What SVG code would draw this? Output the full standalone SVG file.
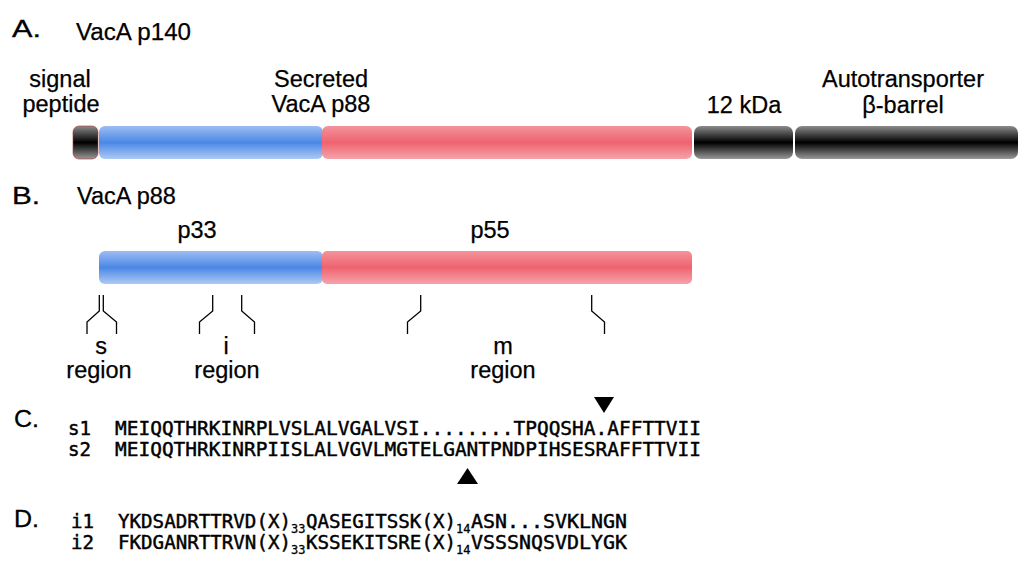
<svg xmlns="http://www.w3.org/2000/svg" width="1024" height="567" viewBox="0 0 1024 567">
<defs>
<linearGradient id="gBlue" x1="0" y1="0" x2="0" y2="1">
<stop offset="0" stop-color="#9dbdf3"/><stop offset="0.5" stop-color="#4a88e6"/><stop offset="1" stop-color="#adc9f5"/>
</linearGradient>
<linearGradient id="gRed" x1="0" y1="0" x2="0" y2="1">
<stop offset="0" stop-color="#f4939c"/><stop offset="0.5" stop-color="#ee636f"/><stop offset="1" stop-color="#f6a3aa"/>
</linearGradient>
<linearGradient id="gBlack" x1="0" y1="0" x2="0" y2="1">
<stop offset="0" stop-color="#8c8c8c"/><stop offset="0.5" stop-color="#000"/><stop offset="1" stop-color="#9a9a9a"/>
</linearGradient>
<style>
.lbl{font-family:"Liberation Sans",Arial,sans-serif;font-size:23.5px;fill:#000;stroke:#000;stroke-width:0.25}
.hd{font-family:"Liberation Sans",Arial,sans-serif;font-size:24px;fill:#000;stroke:#000;stroke-width:0.3}
.seq{font-family:"DejaVu Sans Mono","Liberation Mono",monospace;font-size:19px;fill:#000;stroke:#000;stroke-width:0.45}
.sub{font-family:"DejaVu Sans Mono","Liberation Mono",monospace;font-size:12px;fill:#000;stroke:#000;stroke-width:0.3}
.mid{text-anchor:middle}
.tick{fill:none;stroke:#000;stroke-width:1.3}
</style>
</defs>
<rect width="1024" height="567" fill="#fff"/>

<g id="panelA">
<text class="hd" x="12" y="37" textLength="29" lengthAdjust="spacingAndGlyphs">A.</text>
<text class="lbl" x="76" y="40" textLength="115" lengthAdjust="spacingAndGlyphs">VacA p140</text>
<g id="signal-peptide">
<text class="lbl mid" x="60" y="87">signal</text>
<text class="lbl mid" x="61" y="112">peptide</text>
<rect x="73" y="126" width="25" height="33" rx="6" fill="url(#gBlack)" stroke="#b03030" stroke-width="0.6"/>
</g>
<g id="p88-blue">
<rect x="99" y="126" width="224" height="33" rx="6" fill="url(#gBlue)"/>
</g>
<g id="p88-red">
<text class="lbl mid" x="321" y="87">Secreted</text>
<text class="lbl mid" x="321" y="112">VacA p88</text>
<rect x="322" y="126" width="370" height="33" rx="6" fill="url(#gRed)"/>
</g>
<g id="kda12">
<text class="lbl mid" x="744" y="113">12 kDa</text>
<rect x="694" y="126" width="99" height="33" rx="7" fill="url(#gBlack)"/>
</g>
<g id="autotransporter">
<text class="lbl mid" x="903" y="87">Autotransporter</text>
<text class="lbl mid" x="903" y="113">β-barrel</text>
<rect x="795" y="126" width="223" height="33" rx="7" fill="url(#gBlack)"/>
</g>
</g>

<g id="panelB">
<text class="hd" x="12" y="204" textLength="28" lengthAdjust="spacingAndGlyphs">B.</text>
<text class="lbl" x="77" y="204">VacA p88</text>
<g id="p33">
<text class="lbl mid" x="197" y="238">p33</text>
<rect x="99" y="251" width="224" height="33" rx="6" fill="url(#gBlue)"/>
</g>
<g id="p55">
<text class="lbl mid" x="490" y="238">p55</text>
<rect x="322" y="251" width="370" height="33" rx="5" fill="url(#gRed)"/>
</g>
<g id="s-region">
<text class="lbl mid" x="101" y="354">s</text>
<text class="lbl mid" x="99" y="378">region</text>
</g>
<g id="i-region">
<text class="lbl mid" x="226" y="354">i</text>
<text class="lbl mid" x="227" y="378">region</text>
</g>
<g id="m-region">
<text class="lbl mid" x="503" y="354">m</text>
<text class="lbl mid" x="503" y="378">region</text>
</g>
</g>

<g id="connectors">
<path class="tick" d="M99.3,295 V311 L87,322 V334"/>
<path class="tick" d="M103.3,295 V311 L116.5,322 V334"/>
<path class="tick" d="M212.7,295 V311 L199.5,322 V334"/>
<path class="tick" d="M241.7,295 V311 L254.5,322 V334"/>
<path class="tick" d="M420.7,295 V311 L407.5,322 V334"/>
<path class="tick" d="M591.7,295 V311 L604.5,322 V334"/>
</g>

<g id="panelC">
<text class="hd" x="14" y="427" textLength="25" lengthAdjust="spacingAndGlyphs">C.</text>
<polygon points="594,397 614,397 604,413" fill="#000"/>
<text class="seq" x="68" y="435" textLength="23" lengthAdjust="spacingAndGlyphs">s1</text>
<text class="seq" x="115" y="435" textLength="586" lengthAdjust="spacingAndGlyphs">MEIQQTHRKINRPLVSLALVGALVSI........TPQQSHA.AFFTTVII</text>
<text class="seq" x="68" y="456" textLength="23" lengthAdjust="spacingAndGlyphs">s2</text>
<text class="seq" x="115" y="456" textLength="586" lengthAdjust="spacingAndGlyphs">MEIQQTHRKINRPIISLALVGVLMGTELGANTPNDPIHSESRAFFTTVII</text>
<polygon points="457,484 478,484 467.5,468" fill="#000"/>
</g>

<g id="panelD">
<text class="hd" x="14" y="527" textLength="25" lengthAdjust="spacingAndGlyphs">D.</text>
<text class="seq" x="71" y="528" textLength="23" lengthAdjust="spacingAndGlyphs">i1</text>
<text class="seq" x="118" y="528" textLength="173" lengthAdjust="spacingAndGlyphs">YKDSADRTTRVD(X)</text>
<text class="sub" x="291" y="533">33</text>
<text class="seq" x="306" y="528" textLength="150" lengthAdjust="spacingAndGlyphs">QASEGITSSK(X)</text>
<text class="sub" x="456" y="533">14</text>
<text class="seq" x="471" y="528" textLength="156" lengthAdjust="spacingAndGlyphs">ASN...SVKLNGN</text>
<text class="seq" x="71" y="549" textLength="23" lengthAdjust="spacingAndGlyphs">i2</text>
<text class="seq" x="118" y="549" textLength="173" lengthAdjust="spacingAndGlyphs">FKDGANRTTRVN(X)</text>
<text class="sub" x="291" y="554">33</text>
<text class="seq" x="306" y="549" textLength="150" lengthAdjust="spacingAndGlyphs">KSSEKITSRE(X)</text>
<text class="sub" x="456" y="554">14</text>
<text class="seq" x="471" y="549" textLength="156" lengthAdjust="spacingAndGlyphs">VSSSNQSVDLYGK</text>
</g>
</svg>
